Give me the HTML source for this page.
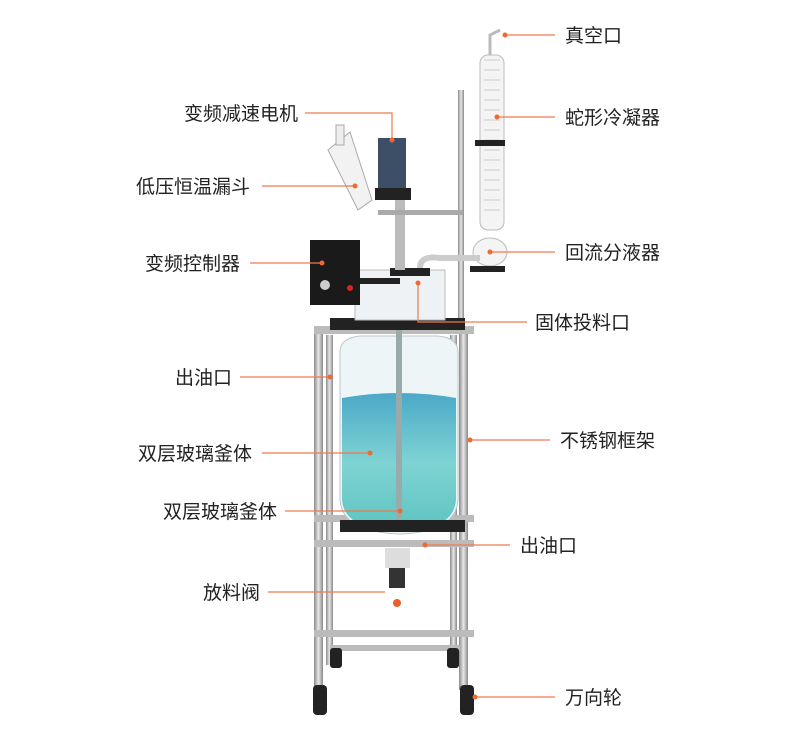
<!DOCTYPE html>
<html><head><meta charset="utf-8"><style>
html,body{margin:0;padding:0;background:#fff}
svg{display:block}
text{font-family:"Liberation Sans","Noto Sans CJK SC",sans-serif;font-size:19px;fill:#222}
</style></head><body>
<svg width="800" height="729" viewBox="0 0 800 729" xmlns="http://www.w3.org/2000/svg">
<defs>
<linearGradient id="liq" x1="0" y1="0" x2="0" y2="1">
<stop offset="0" stop-color="#4aa9c8"/><stop offset="0.5" stop-color="#7fd3d3"/><stop offset="1" stop-color="#5cc4c0"/></linearGradient>
<linearGradient id="steel" x1="0" y1="0" x2="1" y2="0">
<stop offset="0" stop-color="#8a8a8a"/><stop offset="0.5" stop-color="#e8e8e8"/><stop offset="1" stop-color="#888"/></linearGradient>
</defs>
<g fill="url(#steel)">
<rect x="314" y="330" width="9" height="360"/><rect x="326" y="335" width="7" height="330"/>
<rect x="459" y="330" width="9" height="360"/><rect x="450" y="335" width="7" height="330"/>
<rect x="458" y="90" width="6" height="240"/>
</g>
<g fill="#bbb">
<rect x="314" y="326" width="160" height="8"/><rect x="314" y="515" width="160" height="7"/>
<rect x="314" y="540" width="160" height="7"/><rect x="314" y="630" width="160" height="7"/>
<rect x="330" y="645" width="130" height="6"/>
</g>
<g fill="#222"><rect x="313" y="685" width="14" height="30" rx="4"/><rect x="460" y="685" width="14" height="30" rx="4"/>
<rect x="330" y="648" width="12" height="20" rx="3"/><rect x="447" y="648" width="12" height="20" rx="3"/></g>
<path d="M340 352 Q340 338 360 336 L438 336 Q458 338 458 352 L458 500 Q456 532 400 534 Q342 532 340 500 Z" fill="#eef5f7" stroke="#b9c7cc"/>
<path d="M342 398 Q400 388 456 398 L456 500 Q454 530 400 532 Q344 530 342 500 Z" fill="url(#liq)"/>
<rect x="396" y="300" width="6" height="225" fill="#9aa"/>
<rect x="330" y="318" width="135" height="12" fill="#222"/>
<rect x="340" y="520" width="125" height="12" fill="#222"/>
<rect x="385" y="548" width="25" height="20" fill="#ddd"/><rect x="389" y="568" width="16" height="20" fill="#333"/>
<circle cx="397" cy="603" r="4" fill="#e8602c"/>
<rect x="355" y="270" width="90" height="50" fill="#eef2f4" stroke="#bbb"/>
<rect x="360" y="278" width="40" height="6" fill="#222"/><rect x="390" y="268" width="40" height="8" fill="#222"/>
<rect x="378" y="138" width="28" height="52" fill="#3c4f66"/><rect x="375" y="188" width="36" height="12" fill="#222"/>
<rect x="395" y="200" width="10" height="70" fill="#bbb"/>
<rect x="378" y="210" width="85" height="5" fill="#aaa"/>
<path d="M328 150 L350 132 L372 200 L358 210 Z" fill="#f2f2f2" stroke="#aaa"/>
<rect x="336" y="125" width="8" height="20" fill="#eee" stroke="#aaa"/>
<rect x="310" y="240" width="50" height="65" fill="#1a1a1a"/>
<circle cx="325" cy="285" r="5" fill="#ccc"/><circle cx="350" cy="288" r="3" fill="#d22"/>
<rect x="480" y="55" width="24" height="175" rx="8" fill="#f4f4f4" stroke="#bbb"/>
<path d="M484 60 h16 M484 70 h16 M484 80 h16 M484 90 h16 M484 100 h16 M484 110 h16 M484 120 h16 M484 130 h16 M484 140 h16 M484 150 h16 M484 160 h16 M484 170 h16 M484 180 h16 M484 190 h16 M484 200 h16 M484 210 h16" stroke="#ccc"/>
<rect x="475" y="140" width="30" height="6" fill="#222"/>
<path d="M490 55 L490 35 L500 30" stroke="#bbb" fill="none" stroke-width="3"/>
<ellipse cx="490" cy="252" rx="17" ry="14" fill="#f4f4f4" stroke="#bbb"/>
<path d="M420 268 Q420 255 440 258 L480 258" stroke="#ccc" fill="none" stroke-width="6"/>
<rect x="470" y="266" width="35" height="6" fill="#222"/>
<g stroke="#ef7a4e" stroke-width="1.2" fill="none">
<path d="M505 35 H555"/><path d="M497 117 H555"/>
<path d="M305 113 H392 V139"/><path d="M262 186 H355"/><path d="M250 263 H322"/>
<path d="M490 252 H555"/><path d="M418 283 V322 H527"/><path d="M240 377 H330"/>
<path d="M470 440 H550"/><path d="M262 453 H370"/><path d="M285 511 H400"/>
<path d="M425 545 H510"/><path d="M268 592 H385"/><path d="M475 697 H555"/>
</g>
<g fill="#ef6a30">
<circle cx="505" cy="35" r="2.5"/><circle cx="497" cy="117" r="2.5"/><circle cx="392" cy="140" r="2.5"/>
<circle cx="355" cy="186" r="2.5"/><circle cx="322" cy="263" r="2.5"/><circle cx="490" cy="252" r="2.5"/>
<circle cx="418" cy="283" r="2.5"/><circle cx="330" cy="377" r="2.5"/><circle cx="470" cy="440" r="2.5"/>
<circle cx="370" cy="453" r="2.5"/><circle cx="400" cy="511" r="2.5"/><circle cx="425" cy="545" r="2.5"/>
<circle cx="475" cy="697" r="2.5"/>
</g>
<text x="565" y="42">真空口</text>
<text x="565" y="124">蛇形冷凝器</text>
<text x="298" y="120" text-anchor="end">变频减速电机</text>
<text x="250" y="193" text-anchor="end">低压恒温漏斗</text>
<text x="240" y="270" text-anchor="end">变频控制器</text>
<text x="565" y="259">回流分液器</text>
<text x="535" y="329">固体投料口</text>
<text x="232" y="384" text-anchor="end">出油口</text>
<text x="560" y="447">不锈钢框架</text>
<text x="252" y="460" text-anchor="end">双层玻璃釜体</text>
<text x="277" y="518" text-anchor="end">双层玻璃釜体</text>
<text x="520" y="552">出油口</text>
<text x="260" y="599" text-anchor="end">放料阀</text>
<text x="565" y="704">万向轮</text>
</svg>
</body></html>
